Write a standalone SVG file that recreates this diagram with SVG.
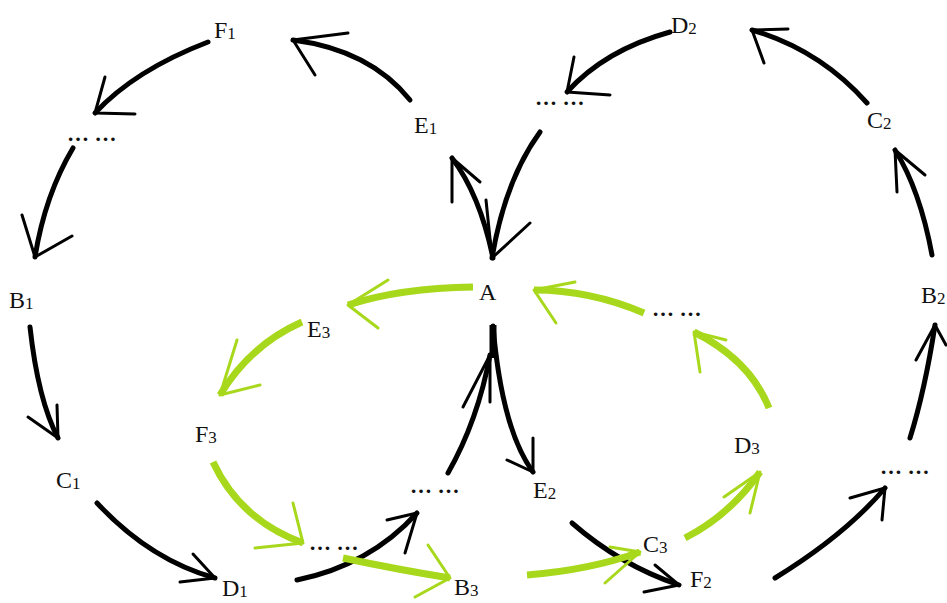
<svg xmlns="http://www.w3.org/2000/svg" width="947" height="603" viewBox="0 0 947 603">
<style>
.lbl{font-family:"Liberation Serif","Times New Roman",serif;font-size:24px;fill:#111}
.sub{font-size:17px}
.dots{font-family:"Liberation Serif","Times New Roman",serif;font-size:22px;font-weight:bold;fill:#111}
.blk{fill:none;stroke:#000;stroke-width:5;stroke-linecap:round}
.bb{fill:none;stroke:#000;stroke-width:3;stroke-linecap:round;stroke-linejoin:round}
.grn{fill:none;stroke:#a8d81c;stroke-width:7;stroke-linecap:butt}
.gb{fill:none;stroke:#a8d81c;stroke-width:3;stroke-linecap:round;stroke-linejoin:round}
</style>
<rect width="947" height="603" fill="#fff"/>
<g id="connectors">
  <!-- black cycle 1 -->
  <path class="blk" d="M410,100 Q370,50 293,40"/>
  <path class="bb" d="M348,33 L293,40 L315,75"/>
  <path class="blk" d="M208,42 Q135,70 95,113"/>
  <path class="bb" d="M105,77 L95,113 L135,114"/>
  <path class="blk" d="M73,148 Q45,195 35,257"/>
  <path class="bb" d="M22,215 L35,257 L72,236"/>
  <path class="blk" d="M30,327 Q38,400 58,438"/>
  <path class="bb" d="M57,405 L58,438 L28,417"/>
  <path class="blk" d="M97,503 Q150,560 215,578"/>
  <path class="bb" d="M193,554 L215,578 L180,582"/>
  <path class="blk" d="M297,580 Q370,565 417,513"/>
  <path class="bb" d="M387,520 L417,513 L405,553"/>
  <path class="blk" d="M448,473 Q478,420 490,355"/>
  <path class="bb" d="M463,407 L490,355 L490,402"/>
  <path class="blk" d="M493,258 Q480,195 452,158"/>
  <path class="bb" d="M452,202 L452,158 L480,182"/>
  <path class="blk" d="M540,132 Q505,180 492,258"/>
  <path class="bb" d="M486,200 L492,258 L530,223"/>
  <!-- A to E2 -->
  <path d="M493,325 L493,358" fill="none" stroke="#000" stroke-width="7"/>
  <path class="blk" d="M493,326 Q502,430 533,472"/>
  <path class="bb" d="M533,438 L533,472 L507,460"/>
  <!-- black cycle 2 -->
  <path class="blk" d="M572,523 Q620,565 679,585"/>
  <path class="bb" d="M655,565 L679,585 L644,592"/>
  <path class="blk" d="M775,578 Q845,535 885,488"/>
  <path class="bb" d="M850,498 L885,488 L882,520"/>
  <path class="blk" d="M910,438 Q925,390 935,325"/>
  <path class="bb" d="M916,360 L935,325 L946,345"/>
  <path class="blk" d="M932,255 Q920,190 895,150"/>
  <path class="bb" d="M897,192 L895,150 L925,175"/>
  <path class="blk" d="M867,103 Q820,50 752,30"/>
  <path class="bb" d="M788,29 L752,30 L764,63"/>
  <path class="blk" d="M670,32 Q605,50 567,92"/>
  <path class="bb" d="M574,57 L567,92 L610,95"/>
  <!-- green cycle -->
  <path class="grn" d="M473,287 Q400,288 348,305"/>
  <path class="gb" d="M388,280 L348,305 L378,328"/>
  <path class="grn" d="M302,322 Q250,345 220,395"/>
  <path class="gb" d="M237,340 L220,395 L260,385"/>
  <path class="grn" d="M213,462 Q240,520 303,543"/>
  <path class="gb" d="M293,503 L303,543 L255,548"/>
  <path class="grn" d="M343,558 Q400,570 450,578"/>
  <path class="gb" d="M428,545 L450,578 L415,597"/>
  <path class="grn" d="M527,575 Q590,570 640,552"/>
  <path class="gb" d="M610,547 L640,552 L605,583"/>
  <path class="grn" d="M685,538 Q730,515 760,472"/>
  <path class="gb" d="M724,497 L760,472 L750,513"/>
  <path class="grn" d="M769,408 Q750,360 694,332"/>
  <path class="gb" d="M700,372 L694,332 L726,340"/>
  <path class="grn" d="M644,313 Q590,290 534,290"/>
  <path class="gb" d="M575,282 L534,290 L556,323"/>
</g>
<g id="node-F1"><text class="lbl" x="214" y="38">F<tspan class="sub" dy="1">1</tspan></text></g>
<g id="node-E1"><text class="lbl" x="414" y="133">E<tspan class="sub" dy="1">1</tspan></text></g>
<g id="node-dots1"><text class="dots" x="67" y="141">… …</text></g>
<g id="node-B1"><text class="lbl" x="9" y="308">B<tspan class="sub" dy="1">1</tspan></text></g>
<g id="node-C1"><text class="lbl" x="56" y="488">C<tspan class="sub" dy="1">1</tspan></text></g>
<g id="node-D1"><text class="lbl" x="222" y="596">D<tspan class="sub" dy="1">1</tspan></text></g>
<g id="node-dots2"><text class="dots" x="309" y="550">… …</text></g>
<g id="node-dots3"><text class="dots" x="410" y="493">… …</text></g>
<g id="node-F3"><text class="lbl" x="195" y="442">F<tspan class="sub" dy="1">3</tspan></text></g>
<g id="node-E3"><text class="lbl" x="307" y="337">E<tspan class="sub" dy="1">3</tspan></text></g>
<g id="node-B3"><text class="lbl" x="454" y="595">B<tspan class="sub" dy="1">3</tspan></text></g>
<g id="node-A"><text class="lbl" x="479" y="300">A</text></g>
<g id="node-dots4"><text class="dots" x="652" y="316">… …</text></g>
<g id="node-B2"><text class="lbl" x="921" y="303">B<tspan class="sub" dy="1">2</tspan></text></g>
<g id="node-D3"><text class="lbl" x="734" y="453">D<tspan class="sub" dy="1">3</tspan></text></g>
<g id="node-E2"><text class="lbl" x="533" y="498">E<tspan class="sub" dy="1">2</tspan></text></g>
<g id="node-dots5"><text class="dots" x="880" y="474">… …</text></g>
<g id="node-C3"><text class="lbl" x="643" y="552">C<tspan class="sub" dy="1">3</tspan></text></g>
<g id="node-F2"><text class="lbl" x="690" y="587">F<tspan class="sub" dy="1">2</tspan></text></g>
<g id="node-D2"><text class="lbl" x="671" y="33">D<tspan class="sub" dy="1">2</tspan></text></g>
<g id="node-dots6"><text class="dots" x="535" y="105">… …</text></g>
<g id="node-C2"><text class="lbl" x="867" y="128">C<tspan class="sub" dy="1">2</tspan></text></g>
</svg>
